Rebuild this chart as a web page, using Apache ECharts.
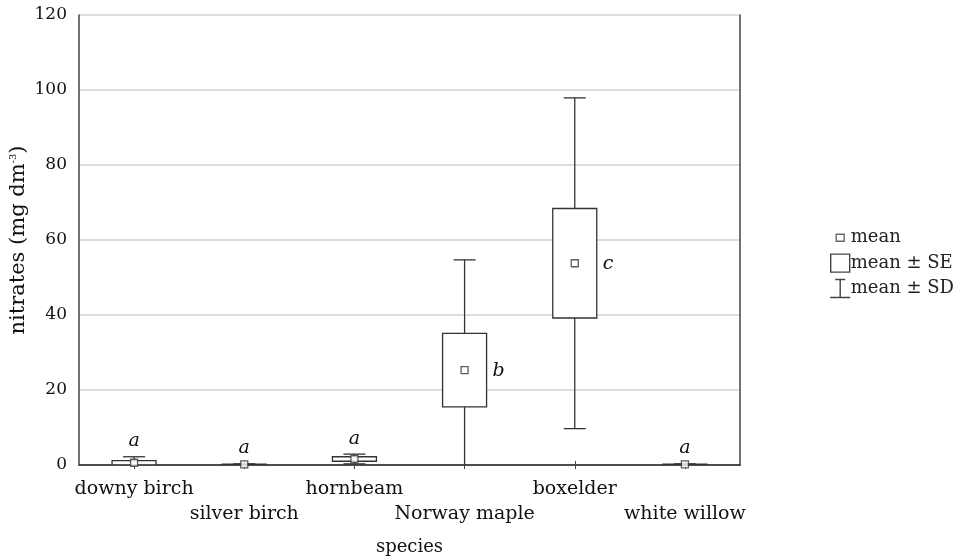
<!DOCTYPE html>
<html><head><meta charset="utf-8">
<script src="https://cdn.jsdelivr.net/npm/echarts@6/dist/echarts.min.js"></script>
<style>html,body{margin:0;padding:0;background:#fff;overflow:hidden}#c{width:962px;height:558px}</style>
</head><body><div id="c"></div><script>
// ---- data ----
const species = ['downy birch','silver birch','hornbeam','Norway maple','boxelder','white willow'];
const means   = [0.6, 0.15, 1.6, 25.3, 53.8, 0.15];
const seVals  = [0.55, 0.1, 0.6, 9.8, 14.6, 0.1];
const sdVals  = [1.6, 0.15, 1.3, 29.4, 44.1, 0.15];
const groups  = ['a','a','a','b','c','a'];
const yMin = 0, yMax = 120, yStep = 20;

const FONT = 'DejaVu Serif';
const INK = '#333';

const chart = echarts.init(document.getElementById('c'), null, {renderer:'canvas', width:962, height:558});

const boxData = species.map((s,i)=>[i, means[i], seVals[i]]);
const sdData  = species.map((s,i)=>[i, means[i], sdVals[i], seVals[i], groups[i]]);
const meanData= species.map((s,i)=>[i, means[i]]);

const BOX_W = 44, CAP_W = 22;

const option = {
  animation:false,
  backgroundColor:'#fff',
  grid:{left:79, width:661, top:15, height:450, containLabel:false, outerBoundsMode:'none'},
  legend:{
    orient:'vertical', left:824, top:222, itemWidth:21, itemHeight:20, itemGap:4,
    selectedMode:false,
    textStyle:{fontFamily:FONT, fontSize:18, color:'#222', padding:[0,0,0,-5]},
    data:[
      {name:'mean', icon:'path://M0,0M21,20M6.5,6.5h8v7h-8z', itemStyle:{color:'#fff', borderColor:'#444', borderWidth:1.4}},
      {name:'mean ± SE', icon:'path://M0,0M21,20M1,1h19v18h-19z', itemStyle:{color:'#fff', borderColor:'#444', borderWidth:1.4}},
      {name:'mean ± SD', icon:'path://M0,0M21,20M5.5,1H15.5M10.5,1V19M0.5,19H20.5', itemStyle:{color:'#fff', borderColor:'#444', borderWidth:1.4}}
    ]
  },
  xAxis:[{
    type:'category', data:species, position:'bottom',
    axisLine:{lineStyle:{color:'#444', width:1.5}},
    axisTick:{show:true, inside:true, length:4, alignWithLabel:true, lineStyle:{color:'#444'}},
    axisLabel:{interval:0, margin:12, fontFamily:FONT, fontSize:19, color:'#111', lineHeight:25,
      formatter:(v,i)=> (i%2 ? '\n'+v : v)},
    name:'species', nameLocation:'middle', nameGap:73, nameMoveOverlap:false,
    nameTextStyle:{fontFamily:FONT, fontSize:18, color:'#111'}
  },{
    type:'category', data:species, position:'top',
    axisLine:{lineStyle:{color:'#444', width:1.5}},
    axisTick:{show:true, inside:true, length:4, alignWithLabel:true, lineStyle:{color:'#444'}},
    axisLabel:{show:false}
  }],
  yAxis:[{
    type:'value', min:yMin, max:yMax, interval:yStep, position:'left',
    axisLine:{show:true, lineStyle:{color:'#444', width:1.5}},
    axisTick:{show:false},
    axisLabel:{margin:12, fontFamily:FONT, fontSize:17, color:'#111'},
    splitLine:{show:true, lineStyle:{color:'#d2d2d2', width:1.5}},
    name:'nitrates (mg dm{sup|-3})', nameLocation:'middle', nameGap:50, nameMoveOverlap:false,
    nameTextStyle:{fontFamily:FONT, fontSize:21, color:'#111', rich:{sup:{fontFamily:FONT, fontSize:10, verticalAlign:'top', color:'#111'}}}
  },{
    type:'value', min:yMin, max:yMax, interval:yStep, position:'right',
    axisLine:{show:true, lineStyle:{color:'#444', width:1.5}},
    axisTick:{show:false}, axisLabel:{show:false}, splitLine:{show:false}
  }],
  series:[
    {
      name:'mean ± SD', type:'custom', clip:true, z:2, data:sdData,
      encode:{x:0, y:[1]},
      renderItem:(params, api)=>{
        const i = api.value(0), m = api.value(1), s = api.value(2);
        const top = api.coord([i, m+s]);
        const bot = api.coord([i, m-s]);
        const st = {stroke:INK, lineWidth:1.3, fill:null};
        return {type:'group', children:[
          {type:'line', shape:{x1:top[0], y1:top[1], x2:bot[0], y2:bot[1]}, style:st},
          {type:'line', shape:{x1:top[0]-CAP_W/2, y1:top[1], x2:top[0]+CAP_W/2, y2:top[1]}, style:st},
          {type:'line', shape:{x1:bot[0]-CAP_W/2, y1:bot[1], x2:bot[0]+CAP_W/2, y2:bot[1]}, style:st}
        ]};
      }
    },
    {
      name:'mean ± SE', type:'custom', clip:true, z:3, data:boxData,
      encode:{x:0, y:[1]},
      renderItem:(params, api)=>{
        const i = api.value(0), m = api.value(1), e = api.value(2);
        const top = api.coord([i, m+e]);
        const bot = api.coord([i, m-e]);
        return {type:'rect', shape:{x:top[0]-BOX_W/2, y:top[1], width:BOX_W, height:bot[1]-top[1]},
          style:{fill:'#fff', stroke:INK, lineWidth:1.3}};
      }
    },
    {
      name:'mean', type:'scatter', z:4, data:meanData, symbol:'rect', symbolSize:7,
      itemStyle:{color:'#fff', borderColor:INK, borderWidth:1.3}
    },
    {
      name:'groups', type:'custom', clip:false, z:5, data:sdData,
      encode:{x:0, y:[1]},
      renderItem:(params, api)=>{
        const i = api.value(0), m = api.value(1), s = api.value(2);
        const letter = groups[params.dataIndex];
        if (s < 5) {
          const top = api.coord([i, m+s]);
          return {type:'text', style:{text:letter, x:top[0], y:top[1]-6, align:'center', verticalAlign:'bottom',
            font:'italic 19px "'+FONT+'"', fill:'#111'}};
        }
        const c = api.coord([i, m]);
        return {type:'text', style:{text:letter, x:c[0]+BOX_W/2+6, y:c[1]+1, align:'left', verticalAlign:'middle',
          font:'italic 19px "'+FONT+'"', fill:'#111'}};
      }
    }
  ]
};
chart.setOption(option);
</script></body></html>
